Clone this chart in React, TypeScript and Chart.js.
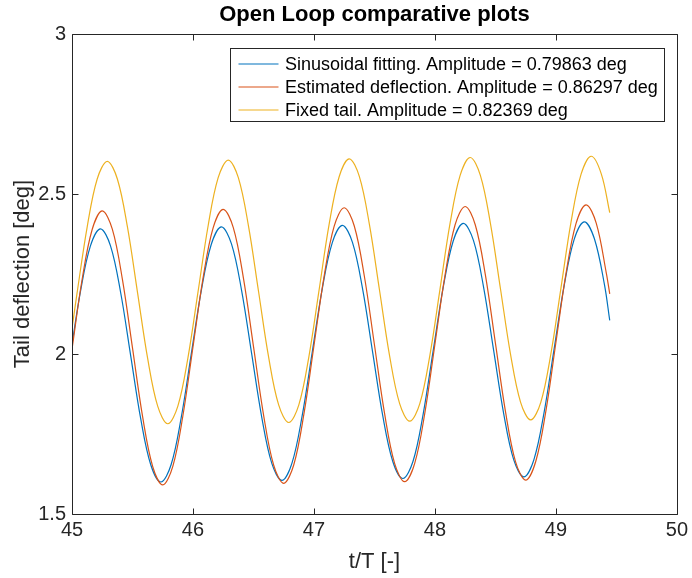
import React, { useEffect, useRef } from 'react';
import { Chart, registerables } from 'chart.js';

Chart.register(...registerables);

const FONT = '"Liberation Sans", Arial, Helvetica, sans-serif';
const AXIS_COLOR = '#262626';

const titleText = 'Open Loop comparative plots';
const xAxisLabel = 't/T [-]';
const yAxisLabel = 'Tail deflection [deg]';

const seriesLabels = [
  'Sinusoidal fitting. Amplitude = 0.79863 deg',
  'Estimated deflection. Amplitude = 0.86297 deg',
  'Fixed tail. Amplitude = 0.82369 deg',
];
const seriesColors = ['#0072BD', '#D95319', '#EDB120'];

const xTicks = [45, 46, 47, 48, 49, 50];
const yTicks = [1.5, 2, 2.5, 3];

// Sinusoidal fitting (blue)
const fitX = [
  45.0, 45.0683, 45.1517, 45.235, 45.3183, 45.4017, 45.485, 45.5683, 45.6517, 45.735, 45.8183, 45.9017, 45.985,
  46.0683, 46.1517, 46.235, 46.3183, 46.4017, 46.485, 46.5683, 46.6517, 46.735, 46.8183, 46.9017, 46.985,
  47.0683, 47.1517, 47.235, 47.3183, 47.4017, 47.485, 47.5683, 47.6517, 47.735, 47.8183, 47.9017, 47.985,
  48.0683, 48.1517, 48.235, 48.3183, 48.4017, 48.485, 48.5683, 48.6517, 48.735, 48.8183, 48.9017, 48.985,
  49.0683, 49.1517, 49.235, 49.3183, 49.4017, 49.445,
];
const fitY = [
  2.030,
  2.192, 2.337, 2.391, 2.338, 2.193, 1.995, 1.797, 1.653, 1.600, 1.653, 1.799, 1.998,
  2.197, 2.343, 2.397, 2.344, 2.199, 2.001, 1.803, 1.658, 1.605, 1.659, 1.805, 2.004,
  2.203, 2.348, 2.402, 2.349, 2.204, 2.006, 1.808, 1.664, 1.611, 1.664, 1.810, 2.009,
  2.208, 2.354, 2.408, 2.355, 2.210, 2.012, 1.814, 1.669, 1.616, 1.670, 1.816, 2.015,
  2.214, 2.359, 2.413, 2.360, 2.216,
  2.105,
];

// Estimated deflection (orange)
const estX = [
  45.0, 45.0833, 45.1667, 45.25, 45.3333, 45.4167, 45.5, 45.5833, 45.6667, 45.75, 45.8333, 45.9167,
  46.0, 46.0833, 46.1667, 46.25, 46.3333, 46.4167, 46.5, 46.5833, 46.6667, 46.75, 46.8333, 46.9167,
  47.0, 47.0833, 47.1667, 47.25, 47.3333, 47.4167, 47.5, 47.5833, 47.6667, 47.75, 47.8333, 47.9167,
  48.0, 48.0833, 48.1667, 48.25, 48.3333, 48.4167, 48.5, 48.5833, 48.6667, 48.75, 48.8333, 48.9167,
  49.0, 49.0833, 49.1667, 49.25, 49.3333, 49.4167, 49.445,
];
const estY = [
  2.015, 2.232, 2.389, 2.447, 2.390, 2.233, 2.019, 1.805, 1.649, 1.591, 1.649, 1.807,
  2.022, 2.237, 2.394, 2.452, 2.395, 2.238, 2.024, 1.810, 1.653, 1.596, 1.654, 1.812,
  2.026, 2.241, 2.399, 2.457, 2.400, 2.243, 2.029, 1.815, 1.658, 1.601, 1.659, 1.816,
  2.031, 2.246, 2.404, 2.461, 2.404, 2.248, 2.034, 1.820, 1.663, 1.606, 1.664, 1.821,
  2.036, 2.251, 2.408, 2.466, 2.409, 2.253,
  2.188,
];

// Fixed tail (yellow)
const fixX = [
  45.0, 45.0417, 45.125, 45.2083, 45.2917, 45.375, 45.4583, 45.5417, 45.625, 45.7083, 45.7917, 45.875, 45.9583,
  46.0417, 46.125, 46.2083, 46.2917, 46.375, 46.4583, 46.5417, 46.625, 46.7083, 46.7917, 46.875, 46.9583,
  47.0417, 47.125, 47.2083, 47.2917, 47.375, 47.4583, 47.5417, 47.625, 47.7083, 47.7917, 47.875, 47.9583,
  48.0417, 48.125, 48.2083, 48.2917, 48.375, 48.4583, 48.5417, 48.625, 48.7083, 48.7917, 48.875, 48.9583,
  49.0417, 49.125, 49.2083, 49.2917, 49.375, 49.445,
];
const fixY = [
  2.080,
  2.190, 2.396, 2.547, 2.602, 2.547, 2.397, 2.192, 1.987, 1.837, 1.782, 1.837, 1.988,
  2.194, 2.400, 2.551, 2.606, 2.551, 2.401, 2.196, 1.991, 1.841, 1.786, 1.841, 1.992,
  2.198, 2.404, 2.554, 2.610, 2.555, 2.405, 2.200, 1.995, 1.845, 1.790, 1.845, 1.996,
  2.202, 2.408, 2.558, 2.614, 2.559, 2.409, 2.204, 1.999, 1.849, 1.794, 1.849, 2.000,
  2.206, 2.412, 2.562, 2.618, 2.563,
  2.442,
];

const seriesX = [fitX, estX, fixX];
const seriesY = [fitY, estY, fixY];

const framePlugin = {
  id: 'matlabFrame',
  afterDatasetsDraw(chart: any) {
    const { ctx, chartArea: a, scales } = chart;
    const L = Math.round(a.left) + 0.5;
    const R = Math.round(a.right) + 0.5;
    const T = Math.round(a.top) + 0.5;
    const B = Math.round(a.bottom) + 0.5;
    const tl = 6;
    ctx.save();
    ctx.strokeStyle = AXIS_COLOR;
    ctx.lineWidth = 1;
    ctx.beginPath();
    ctx.rect(L, T, R - L, B - T);
    for (const v of xTicks) {
      const px = Math.round(scales.x.getPixelForValue(v)) + 0.5;
      ctx.moveTo(px, B);
      ctx.lineTo(px, B - tl);
      ctx.moveTo(px, T);
      ctx.lineTo(px, T + tl);
    }
    for (const v of yTicks) {
      const py = Math.round(scales.y.getPixelForValue(v)) + 0.5;
      ctx.moveTo(L, py);
      ctx.lineTo(L + tl, py);
      ctx.moveTo(R, py);
      ctx.lineTo(R - tl, py);
    }
    ctx.stroke();

    // Legend
    ctx.font = `18px ${FONT}`;
    const textW = Math.max(...seriesLabels.map((l) => ctx.measureText(l).width));
    const boxR = Math.round(a.right) - 12.5;
    const boxW = Math.round(55 + textW + 6);
    const boxL = boxR - boxW;
    const boxT = Math.round(a.top) + 14.5;
    const boxH = 73;
    ctx.fillStyle = '#ffffff';
    ctx.fillRect(boxL, boxT, boxW, boxH);
    ctx.strokeStyle = AXIS_COLOR;
    ctx.lineWidth = 1;
    ctx.strokeRect(boxL, boxT, boxW, boxH);
    ctx.textBaseline = 'middle';
    ctx.textAlign = 'left';
    seriesLabels.forEach((label, i) => {
      const y = boxT + 15.5 + i * 23;
      ctx.strokeStyle = seriesColors[i];
      ctx.lineWidth = 1.2;
      ctx.beginPath();
      ctx.moveTo(boxL + 8, y);
      ctx.lineTo(boxL + 48, y);
      ctx.stroke();
      ctx.fillStyle = '#000000';
      ctx.fillText(label, boxL + 54.5, y + 1);
    });

    // Title
    ctx.font = `bold 22px ${FONT}`;
    ctx.fillStyle = '#000000';
    ctx.textAlign = 'center';
    ctx.textBaseline = 'alphabetic';
    ctx.fillText(titleText, (a.left + a.right) / 2, 21);
    ctx.restore();
  },
};

const fmt = (v: any) => String(Number(v));

export default function App() {
  const canvasRef = useRef<HTMLCanvasElement | null>(null);

  useEffect(() => {
    if (!canvasRef.current) return;
    const datasets = seriesLabels.map((label, i) => ({
      label,
      data: seriesX[i].map((x, j) => ({ x, y: seriesY[i][j] })),
      borderColor: seriesColors[i],
      backgroundColor: seriesColors[i],
      borderWidth: 1.2,
      pointRadius: 0,
      pointHoverRadius: 0,
      tension: 0.35,
      fill: false,
      order: 2 - i,
    }));
    const chart = new Chart(canvasRef.current, {
      type: 'line',
      data: { datasets },
      options: {
        animation: false,
        responsive: false,
        maintainAspectRatio: false,
        events: [],
        layout: { padding: { top: 34, right: 13, bottom: 0, left: 0 } },
        plugins: {
          legend: { display: false },
          tooltip: { enabled: false },
          title: { display: false },
        },
        scales: {
          x: {
            type: 'linear',
            min: 45,
            max: 50,
            afterBuildTicks: (scale: any) => {
              scale.ticks = xTicks.map((v) => ({ value: v }));
            },
            ticks: {
              font: { family: FONT, size: 20 },
              color: AXIS_COLOR,
              padding: 4,
              maxRotation: 0,
              autoSkip: false,
              callback: fmt,
            },
            grid: { display: false, drawTicks: false },
            border: { display: false },
            title: {
              display: true,
              text: xAxisLabel,
              font: { family: FONT, size: 22 },
              color: AXIS_COLOR,
              padding: { top: 0, bottom: 3 },
            },
            afterFit: (scale: any) => {
              scale.height = 64;
            },
          },
          y: {
            type: 'linear',
            min: 1.5,
            max: 3,
            afterBuildTicks: (scale: any) => {
              scale.ticks = yTicks.map((v) => ({ value: v }));
            },
            ticks: {
              font: { family: FONT, size: 20 },
              color: AXIS_COLOR,
              padding: 6,
              autoSkip: false,
              callback: fmt,
            },
            grid: { display: false, drawTicks: false },
            border: { display: false },
            title: {
              display: true,
              text: yAxisLabel,
              font: { family: FONT, size: 22 },
              color: AXIS_COLOR,
              padding: { top: 10, bottom: 0 },
            },
            afterFit: (scale: any) => {
              scale.width = 72;
            },
          },
        },
      },
      plugins: [framePlugin],
    });
    return () => chart.destroy();
  }, []);

  return (
    <div style={{ position: 'absolute', left: 0, top: 0, width: 692, height: 578, background: '#ffffff' }}>
      <canvas ref={canvasRef} width={692} height={578} style={{ display: 'block', width: 692, height: 578 }} />
    </div>
  );
}
